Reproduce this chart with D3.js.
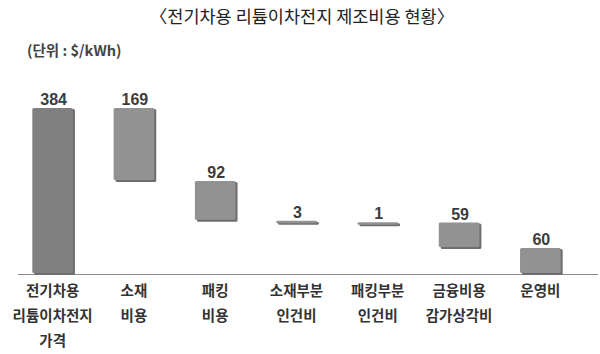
<!DOCTYPE html>
<html>
<head>
<meta charset="utf-8">
<script src="https://cdn.jsdelivr.net/npm/d3@7"></script>
<style>
  body { margin: 0; background: #fff; }
  svg { display: block; }
</style>
</head>
<body>
<svg id="chart"></svg>
<script>
// 항목 (줄바꿈 포함)
const categories = [
    ["전기차용", "리튬이차전지", "가격"],
    ["소재", "비용"],
    ["패킹", "비용"],
    ["소재부분", "인건비"],
    ["패킹부분", "인건비"],
    ["금융비용", "감가상각비"],
    ["운영비"]
];
const values = [384, 169, 92, 3, 1, 59, 60];
const isTotal = [true, false, false, false, false, false, false];

const title = "〈전기차용 리튬이차전지 제조비용 현황〉";
const unitLabel = "(단위 : $/kWh)";

const width = 600, height = 354;
const margin = {top: 108, right: 19, bottom: 80, left: 12};

const svg = d3.select("#chart")
    .attr("width", width)
    .attr("height", height);

const font = "'Noto Sans CJK KR', 'Liberation Sans', sans-serif";

// 폭포 차트 구간 계산
let running = 0;
const bars = values.map((v, i) => {
    let lo, hi;
    if (isTotal[i]) {
        lo = 0; hi = v; running = v;
    } else {
        hi = running; lo = running - v; running = lo;
    }
    return {cat: categories[i], value: v, lo: lo, hi: hi, total: isTotal[i]};
});

const x = d3.scaleBand()
    .domain(d3.range(categories.length))
    .range([margin.left, 581])
    .paddingInner(0.5)
    .paddingOuter(0.25);

const y = d3.scaleLinear()
    .domain([0, d3.max(values)])
    .range([height - margin.bottom, margin.top]);

// title
svg.append("text")
    .attr("x", width / 2 + 2)
    .attr("y", 23)
    .attr("text-anchor", "middle")
    .attr("font-family", font)
    .attr("font-size", "17.5px")
    .attr("fill", "#222")
    .text(title);

svg.append("text")
    .attr("x", 27)
    .attr("y", 56)
    .attr("font-family", font)
    .attr("font-weight", "bold")
    .attr("font-size", "14.5px")
    .attr("fill", "#444")
    .text(unitLabel);

// baseline
svg.append("line")
    .attr("x1", 18)
    .attr("x2", 598)
    .attr("y1", y(0) + 0.5)
    .attr("y2", y(0) + 0.5)
    .attr("stroke", "#8c8c8c")
    .attr("stroke-width", 1.2);

const g = svg.append("g").attr("class", "bars");

// 그림자
g.selectAll("rect.shadow")
    .data(bars)
    .join("rect")
    .attr("class", "shadow")
    .attr("x", (d, i) => x(i) + 2)
    .attr("y", d => y(d.hi) + 1)
    .attr("width", x.bandwidth())
    .attr("height", d => Math.max(3, y(d.lo) - y(d.hi)))
    .attr("rx", 1.5)
    .attr("fill", "#6e6e6e");

g.selectAll("rect.bar")
    .data(bars)
    .join("rect")
    .attr("class", "bar")
    .attr("x", (d, i) => x(i))
    .attr("y", d => y(d.hi))
    .attr("width", x.bandwidth())
    .attr("height", d => Math.max(2.5, y(d.lo) - y(d.hi) - 1))
    .attr("rx", 1.5)
    .attr("fill", d => d.total ? "#808080" : "#929292");

// value labels
svg.append("g")
    .selectAll("text")
    .data(bars)
    .join("text")
    .attr("x", (d, i) => x(i) + x.bandwidth() / 2 + 1)
    .attr("y", d => y(d.hi) - 3)
    .attr("text-anchor", "middle")
    .attr("font-family", "'Liberation Sans', Arial, sans-serif")
    .attr("font-weight", "bold")
    .attr("font-size", "16px")
    .attr("fill", "#3c3c3c")
    .text(d => d.value);

// category labels
const labels = svg.append("g")
    .selectAll("text")
    .data(bars)
    .join("text")
    .attr("x", (d, i) => x(i) + x.bandwidth() / 2)
    .attr("y", 296)
    .attr("text-anchor", "middle")
    .attr("font-family", font)
    .attr("font-weight", "bold")
    .attr("font-size", "14.5px")
    .attr("fill", "#333");

labels.selectAll("tspan")
    .data(d => d.cat)
    .join("tspan")
    .attr("x", function () { return d3.select(this.parentNode).attr("x"); })
    .attr("dy", (d, i) => i === 0 ? 0 : 25)
    .text(d => d);
</script>
</body>
</html>
